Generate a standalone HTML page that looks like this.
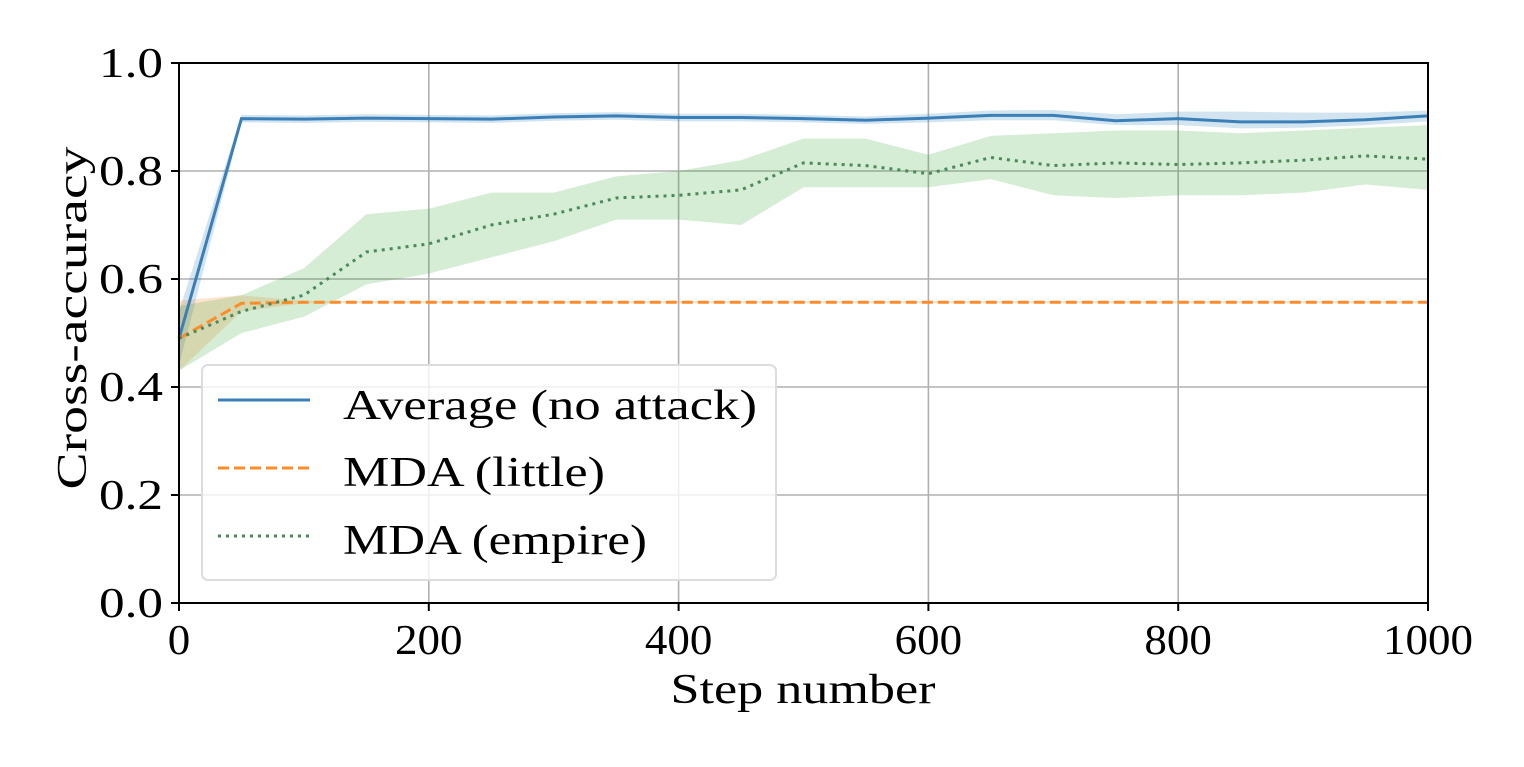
<!DOCTYPE html>
<html><head><meta charset="utf-8"><style>
html,body{margin:0;padding:0;background:#fff;}
svg text{font-family:"Liberation Serif",serif;fill:#000;}
</style></head><body>
<svg id="chart" width="1524" height="762" viewBox="0 0 1524 762" xmlns="http://www.w3.org/2000/svg">
<g id="grid"></g>
<g id="bands"></g>
<g id="lines"></g>
<rect x="179" y="63" width="1249" height="540" fill="none" stroke="#000" stroke-width="2"/>
<g id="ticks"></g>
<text x="803" y="703" font-size="42" text-anchor="middle" textLength="265" lengthAdjust="spacingAndGlyphs">Step number</text>
<text transform="translate(86,318) rotate(-90)" font-size="42" text-anchor="middle" textLength="343" lengthAdjust="spacingAndGlyphs">Cross-accuracy</text>
<g>
<rect x="202" y="365" width="574" height="215" rx="6" fill="#fff" fill-opacity="0.8" stroke="#ddd" stroke-width="2"/>
<line x1="218" y1="400" x2="310" y2="400" stroke="#3b7fb9" stroke-width="3"/>
<text x="343" y="419" font-size="42" textLength="414" lengthAdjust="spacingAndGlyphs">Average (no attack)</text>
<line x1="218" y1="468" x2="310" y2="468" stroke="#ff8c2a" stroke-width="3" stroke-dasharray="11,5"/>
<text x="343" y="486" font-size="42" textLength="262" lengthAdjust="spacingAndGlyphs">MDA (little)</text>
<line x1="218" y1="536" x2="310" y2="536" stroke="#4a8a5a" stroke-width="3" stroke-dasharray="3,5"/>
<text x="343" y="554" font-size="42" textLength="304" lengthAdjust="spacingAndGlyphs">MDA (empire)</text>
</g>
</svg>
<script>
const steps=[0,50,100,150,200,250,300,350,400,450,500,550,600,650,700,750,800,850,900,950,1000];
const avgVals=[0.49,0.897,0.896,0.898,0.897,0.896,0.9,0.902,0.899,0.899,0.897,0.894,0.898,0.903,0.903,0.893,0.897,0.891,0.891,0.895,0.902];
const avgLow=[0.44,0.89,0.889,0.891,0.89,0.889,0.893,0.895,0.892,0.892,0.89,0.887,0.89,0.894,0.894,0.885,0.885,0.879,0.88,0.885,0.892];
const avgHigh=[0.54,0.904,0.903,0.905,0.904,0.903,0.907,0.909,0.906,0.906,0.904,0.901,0.906,0.912,0.913,0.905,0.91,0.91,0.908,0.908,0.912];
const littleVals=[0.49,0.555,0.557,0.557,0.557,0.557,0.557,0.557,0.557,0.557,0.557,0.557,0.557,0.557,0.557,0.557,0.557,0.557,0.557,0.557,0.557];
const littleLow=[0.43,0.54,0.555,0.555,0.555,0.555,0.555,0.555,0.555,0.555,0.555,0.555,0.555,0.555,0.555,0.555,0.555,0.555,0.555,0.555,0.555];
const littleHigh=[0.56,0.57,0.559,0.559,0.559,0.559,0.559,0.559,0.559,0.559,0.559,0.559,0.559,0.559,0.559,0.559,0.559,0.559,0.559,0.559,0.559];
const empireVals=[0.49,0.54,0.57,0.65,0.665,0.70,0.72,0.75,0.755,0.765,0.815,0.81,0.795,0.825,0.81,0.815,0.812,0.815,0.82,0.828,0.822];
const empireLow=[0.43,0.50,0.53,0.59,0.61,0.64,0.67,0.71,0.71,0.70,0.77,0.77,0.77,0.785,0.755,0.75,0.755,0.755,0.76,0.775,0.765];
const empireHigh=[0.55,0.57,0.62,0.72,0.73,0.76,0.76,0.79,0.80,0.82,0.86,0.86,0.83,0.865,0.87,0.875,0.875,0.87,0.875,0.88,0.885];
const xTicks=[0,200,400,600,800,1000];
const yTicks=[0,0.2,0.4,0.6,0.8,1.0];
const xS=v=>179+v*1249/1000, yS=v=>603-v*540;
const NS="http://www.w3.org/2000/svg";
function mk(tag,attrs,parent){const e=document.createElementNS(NS,tag);for(const k in attrs)e.setAttribute(k,attrs[k]);parent.appendChild(e);return e;}
const grid=document.getElementById('grid'),ticks=document.getElementById('ticks'),bands=document.getElementById('bands'),lines=document.getElementById('lines');
xTicks.forEach(t=>{
 const g=mk('line',{x1:xS(t),x2:xS(t),y1:63,y2:603,stroke:'#b0b0b0','stroke-width':1.6},grid);
 
 
 const tk=mk('line',{x1:xS(t),x2:xS(t),y1:603,y2:611,stroke:'#000','stroke-width':2},ticks);
 
 
 const s=String(t);
 const tx=mk('text',{x:xS(t),y:654,'font-size':42,'text-anchor':'middle',textLength:s.length*22.5,lengthAdjust:'spacingAndGlyphs'},ticks);tx.textContent=s;
 
 
});
yTicks.forEach(t=>{
 const g=mk('line',{x1:179,x2:1428,y1:yS(t),y2:yS(t),stroke:'#b0b0b0','stroke-width':1.6},grid);
 
 
 const tk=mk('line',{x1:171,x2:179,y1:yS(t),y2:yS(t),stroke:'#000','stroke-width':2},ticks);
 
 
 const tx=mk('text',{x:163,y:yS(t)+14,'font-size':42,'text-anchor':'end',textLength:64,lengthAdjust:'spacingAndGlyphs'},ticks);tx.textContent=t.toFixed(1);
 
 
});
function band(lo,hi,color,name){
 let d='M'+steps.map((s,i)=>xS(s)+','+yS(hi[i])).join('L');
 for(let i=steps.length-1;i>=0;i--)d+='L'+xS(steps[i])+','+yS(lo[i]);
 const p=mk('path',{d:d+'Z',fill:color,'fill-opacity':0.2,stroke:'none'},bands);
 
 
}
function line(v,color,dash,name){
 const p=mk('path',{d:'M'+steps.map((s,i)=>xS(s)+','+yS(v[i])).join('L'),fill:'none',stroke:color,'stroke-width':3,'stroke-dasharray':dash},lines);
 
 
}
band(avgLow,avgHigh,'#1f77b4','average-band');
band(littleLow,littleHigh,'#ff7f0e','little-band');
band(empireLow,empireHigh,'#2ca02c','empire-band');
line(avgVals,'#3b7fb9','none','average-line');
line(littleVals,'#ff8c2a','11,5','little-line');
line(empireVals,'#4a8a5a','3,5','empire-line');
</script>
</body></html>
